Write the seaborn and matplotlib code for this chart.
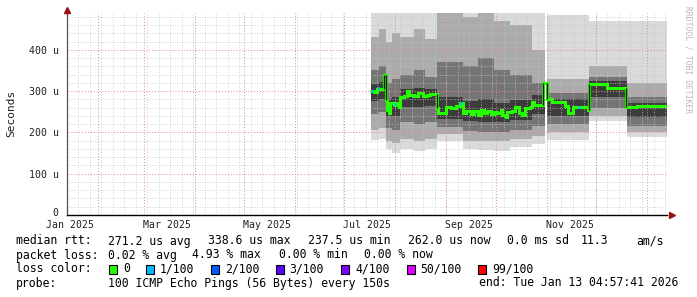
import numpy as np
import pandas as pd
import matplotlib
matplotlib.use("Agg")
import matplotlib.pyplot as plt
import matplotlib.dates as mdates
import matplotlib.transforms as mtransforms
import seaborn as sns
from matplotlib.patches import Rectangle

# ---------------- data (values in microseconds) ----------------
median_dates = ["2025-07-17", "2025-07-19", "2025-07-21", "2025-07-23", "2025-07-25",
                "2025-07-26", "2025-07-27", "2025-07-28", "2025-07-29", "2025-07-31",
                "2025-08-02", "2025-08-03", "2025-08-04", "2025-08-06", "2025-08-08",
                "2025-08-09", "2025-08-12", "2025-08-15", "2025-08-18", "2025-08-20",
                "2025-08-22", "2025-08-26", "2025-08-27", "2025-09-01", "2025-09-04",
                "2025-09-07", "2025-09-09", "2025-09-11", "2025-09-13", "2025-09-16",
                "2025-09-18", "2025-09-20", "2025-09-22", "2025-09-24", "2025-09-26",
                "2025-09-28", "2025-09-30", "2025-10-02", "2025-10-04", "2025-10-05",
                "2025-10-07", "2025-10-08", "2025-10-11", "2025-10-13", "2025-10-15",
                "2025-10-17", "2025-10-19", "2025-10-22", "2025-10-23", "2025-10-24",
                "2025-10-30", "2025-11-01", "2025-11-04", "2025-11-12", "2025-11-14",
                "2025-11-17", "2025-11-26", "2025-11-27", "2025-12-03", "2025-12-08",
                "2025-12-19", "2025-12-26", "2026-01-01", "2026-01-13"]
median_us = [300, 298, 306, 304, 338,
             278, 255, 247, 270, 266,
             270, 262, 285, 289, 300,
             290, 287, 295, 287, 290,
             293, 260, 247, 262, 260,
             264, 270, 246, 251, 245,
             252, 243, 255, 248, 252,
             244, 250, 247, 253, 241,
             238, 250, 252, 262, 246,
             243, 258, 262, 274, 266,
             320, 280, 273, 265, 246,
             262, 254, 317, 316, 307,
             262, 263, 264, 262]

loss_dates = ["2025-07-17", "2025-07-21", "2025-07-31", "2025-09-09", "2025-11-20"]
loss_us = [300, 307, 268, 270, 262]

seg_start = ["2025-07-17", "2025-07-22", "2025-07-26", "2025-07-30", "2025-08-04",
             "2025-08-12", "2025-08-19", "2025-08-26", "2025-09-11", "2025-09-20",
             "2025-09-30", "2025-10-10", "2025-10-23", "2025-11-01", "2025-11-27",
             "2025-12-20"]
seg_end = ["2025-07-22", "2025-07-26", "2025-07-30", "2025-08-04", "2025-08-12",
           "2025-08-19", "2025-08-26", "2025-09-11", "2025-09-20", "2025-09-30",
           "2025-10-10", "2025-10-23", "2025-10-31", "2025-11-27", "2025-12-20",
           "2026-01-13"]
smoke_min = [182, 185, 160, 150, 160, 155, 160, 180, 160, 157, 155, 165, 172, 182, 228, 190]
smoke_p05 = [205, 210, 180, 175, 185, 180, 185, 195, 180, 178, 178, 185, 192, 200, 240, 200]
smoke_p15 = [245, 250, 210, 205, 225, 220, 225, 212, 203, 200, 200, 205, 215, 220, 260, 215]
smoke_p30 = [275, 280, 240, 240, 262, 262, 265, 232, 228, 226, 226, 230, 245, 240, 285, 238]
smoke_p70 = [318, 322, 282, 285, 305, 308, 305, 285, 275, 280, 272, 278, 290, 280, 325, 272]
smoke_p85 = [350, 360, 320, 330, 340, 350, 335, 370, 360, 380, 350, 340, 320, 295, 335, 285]
smoke_p95 = [430, 450, 420, 440, 430, 450, 425, 490, 480, 490, 470, 460, 400, 330, 360, 320]
smoke_max = [490, 490, 490, 490, 490, 490, 490, 490, 490, 490, 490, 490, 490, 485, 470, 470]

loss_labels = ["0", "1/100", "2/100", "3/100", "4/100", "50/100", "99/100"]
loss_colors = ["#26ff00", "#00b8ff", "#0059ff", "#5e00ff", "#7e00ff", "#dd00ff", "#ff0000"]

label_dates = ["2025-01-15", "2025-03-15", "2025-05-15", "2025-07-15", "2025-09-15", "2025-11-15"]
label_text = ["Jan 2025", "Mar 2025", "May 2025", "Jul 2025", "Sep 2025", "Nov 2025"]

# ---------------- figure ----------------
sns.set_theme(style="white")
plt.rcParams["font.family"] = ["DejaVu Sans Mono", "DejaVu Sans"]

W, H = 697, 297
fig = plt.figure(figsize=(W / 100, H / 100), dpi=100, facecolor="white")
ax = fig.add_axes([67 / W, (H - 215) / H, 600 / W, 202.4 / H])
ax.set_facecolor("white")

xmin = pd.Timestamp("2025-01-13 04:57:41")
xmax = pd.Timestamp("2026-01-13 04:57:41")
ax.set_xlim(xmin, xmax)
ax.set_ylim(0, 490)

# smoke
band_cols = ["#dadada", "#ababab", "#757575", "#3c3c3c"]
for i in range(len(seg_start)):
    xs = pd.to_datetime([seg_start[i], seg_end[i]])
    pairs = [(smoke_min[i], smoke_max[i]), (smoke_p05[i], smoke_p95[i]),
             (smoke_p15[i], smoke_p85[i]), (smoke_p30[i], smoke_p70[i])]
    for (lo, hi), c in zip(pairs, band_cols):
        ax.fill_between(xs, [lo, lo], [hi, hi], color=c, lw=0, zorder=1)

# grid
xlo, xhi = mdates.date2num(xmin), mdates.date2num(xmax)
for d in mdates.WeekdayLocator(byweekday=mdates.MO).tick_values(xmin, xmax):
    if xlo < d < xhi:
        ax.axvline(d, color="#c4c4c4", lw=0.6, ls=(0, (1, 2)), zorder=2)
for v in range(20, 490, 20):
    if v % 100:
        ax.axhline(v, color="#c4c4c4", lw=0.6, ls=(0, (1, 2)), zorder=2)
for d in mdates.MonthLocator().tick_values(xmin, xmax):
    if xlo < d < xhi:
        ax.axvline(d, color="#e58a8a", lw=0.7, ls=(0, (1, 2)), zorder=2)
for v in range(100, 490, 100):
    ax.axhline(v, color="#e58a8a", lw=0.7, ls=(0, (1, 2)), zorder=2)

# median line (green, loss = 0) with dark connectors at large jumps
md = pd.to_datetime(median_dates)
df = pd.DataFrame({"date": md, "rtt": median_us})
sns.lineplot(data=df, x="date", y="rtt", drawstyle="steps-post", color=loss_colors[0],
             lw=2.2, estimator=None, ax=ax, zorder=5, solid_joinstyle="miter")
mv = np.asarray(median_us, dtype=float)
jumps = np.where(np.abs(np.diff(mv)) > 30)[0] + 1
ax.vlines(md[jumps], mv[jumps - 1], mv[jumps], color="#1a1a1a", lw=1.0, zorder=6)
ld = pd.to_datetime(loss_dates)
ax.hlines(loss_us, ld, ld + pd.Timedelta(days=1.2), color=loss_colors[1], lw=2.2,
          zorder=7, capstyle="butt")

# axes styling
for s in ["top", "right"]:
    ax.spines[s].set_visible(False)
ax.spines["left"].set_color("#505050")
ax.spines["left"].set_linewidth(0.9)
ax.spines["bottom"].set_color("#000000")
ax.spines["bottom"].set_linewidth(1.0)
ax.set_xlabel("")
ax.set_ylabel("Seconds", fontsize=8, color="#202020")
ax.set_yticks([0, 100, 200, 300, 400])
ax.set_yticklabels(["0", "100 u", "200 u", "300 u", "400 u"])
ax.set_xticks(pd.to_datetime(label_dates))
ax.set_xticklabels(label_text)
ax.tick_params(axis="both", labelsize=7.1, colors="#202020", length=0)
ax.tick_params(axis="y", pad=6)
ax.tick_params(axis="x", pad=3.5)
ax.yaxis.set_label_coords(-0.085, 0.5)
zero_lab = ax.get_yticklabels()[0]
zero_lab.set_transform(zero_lab.get_transform() +
                       mtransforms.ScaledTranslation(0, 2.5 / 72, fig.dpi_scale_trans))

# axis arrows
ax.plot([0], [1.012], marker="^", color="#9a1010", ms=4, transform=ax.transAxes,
        clip_on=False, zorder=10)
ax.plot([1.009], [0], marker=">", color="#9a1010", ms=4, transform=ax.transAxes,
        clip_on=False, zorder=10)

# watermark
fig.text(688 / W, 1 - 60 / H, "RRDTOOL / TOBI OETIKER", rotation=270, fontsize=5.8,
         color="#b8b8b8", ha="center", va="center")

# legend / statistics text
def ftxt(x, y, s):
    fig.text(x / W, 1 - y / H, s, fontsize=8.3, color="#000000", ha="left", va="center")

ftxt(16, 241, "median rtt:")
for s, x in [("271.2 us avg", 107.6), ("338.6 us max", 207.6), ("237.5 us min", 307.6),
             ("262.0 us now", 408), ("0.0 ms sd", 507), ("11.3", 581), ("am/s", 636)]:
    ftxt(x, 241, s)
ftxt(16, 255, "packet loss:")
for s, x in [("0.02 % avg", 107.6), ("4.93 % max", 192.4), ("0.00 % min", 279),
             ("0.00 % now", 364.4)]:
    ftxt(x, 255, s)
ftxt(16, 269, "loss color:")
sq_x = [109, 145.8, 210.7, 275.6, 341, 406.7, 477.8]
for lab, col, x in zip(loss_labels, loss_colors, sq_x):
    fig.add_artist(Rectangle((x / W, 1 - 273.5 / H), 8 / W, 9 / H, transform=fig.transFigure,
                             facecolor=col, edgecolor="black", lw=0.8))
    ftxt(x + 14, 269, lab)
ftxt(16, 283, "probe:")
ftxt(107.6, 283, "100 ICMP Echo Pings (56 Bytes) every 150s")
ftxt(478.7, 283, "end: Tue Jan 13 04:57:41 2026")

fig.savefig("out.png", dpi=100, facecolor="white")
